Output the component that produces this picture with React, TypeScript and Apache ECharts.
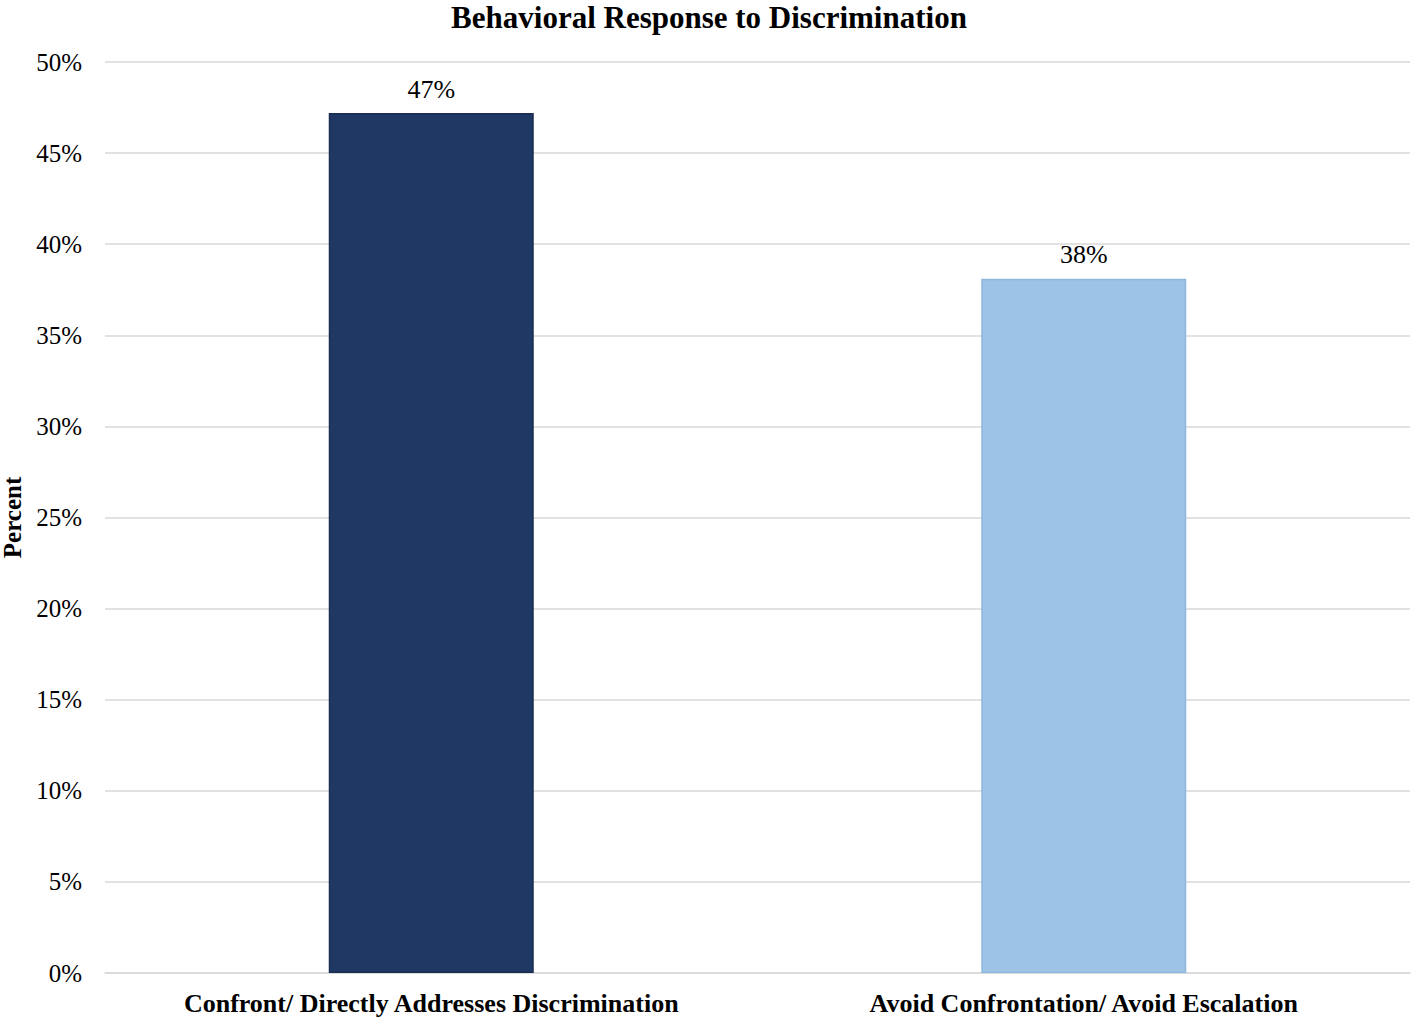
import React, { useEffect, useRef } from "react";
import * as echarts from "echarts";

const categories = ["Confront/ Directly Addresses Discrimination", "Avoid Confrontation/ Avoid Escalation"];
const values = [47.2, 38.1];
const labels = ["47%", "38%"];
const barColors = ["#203864", "#9DC3E6"];
const barBorders = ["#1a2d52", "#8fb8df"];

const FONT = "'Liberation Serif', 'Times New Roman', serif";

export default function App() {
  const ref = useRef<HTMLDivElement>(null);
  useEffect(() => {
    const chart = echarts.init(ref.current!, null, { renderer: "svg" });
    chart.setOption({
      animation: false,
      backgroundColor: "#ffffff",
      title: {
        text: "Behavioral Response to Discrimination",
        left: "center",
        top: -3,
        textStyle: { fontFamily: FONT, fontWeight: "bold", fontSize: 31, color: "#000" },
      },
      grid: { left: 105, right: 8, top: 62, bottom: 51, containLabel: false, outerBoundsMode: "none" },
      xAxis: {
        type: "category",
        data: categories,
        axisLine: { lineStyle: { color: "#d9d9d9", width: 1.5 } },
        axisTick: { show: false },
        axisLabel: { fontFamily: FONT, fontWeight: "bold", fontSize: 26, color: "#000", margin: 17 },
      },
      yAxis: {
        type: "value",
        min: 0,
        max: 50,
        interval: 5,
        name: "Percent",
        nameLocation: "middle",
        nameGap: 79,
        nameTextStyle: { fontFamily: FONT, fontWeight: "bold", fontSize: 25, color: "#000" },
        axisLabel: { formatter: "{value}%", fontFamily: FONT, fontSize: 25, color: "#000", margin: 23 },
        splitLine: { lineStyle: { color: "#d9d9d9", width: 1.5 } },
        axisLine: { show: false },
        axisTick: { show: false },
      },
      series: [
        {
          type: "bar",
          barWidth: 205,
          data: values.map((v, i) => ({
            value: v,
            itemStyle: { color: barColors[i], borderColor: barBorders[i], borderWidth: 1.5 },
            label: { formatter: labels[i] },
          })),
          label: {
            show: true,
            position: "top",
            distance: 11,
            fontFamily: FONT,
            fontSize: 26,
            color: "#000",
          },
        },
      ],
    });
    return () => chart.dispose();
  }, []);
  return (
    <div
      ref={ref}
      style={{ position: "fixed", left: 0, top: 0, width: 1418, height: 1024, background: "#fff" }}
    />
  );
}
